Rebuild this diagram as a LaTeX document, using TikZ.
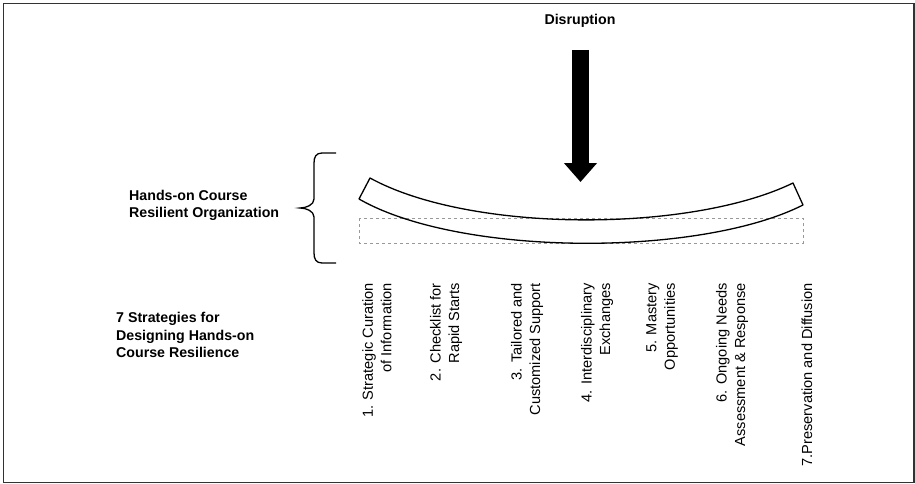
\documentclass[tikz,border=0pt]{standalone}
\usepackage{fontspec}
\setmainfont{Liberation Sans}
\usetikzlibrary{arrows.meta}

\tikzset{
  heading/.style={font=\fontsize{14.2}{17.5}\selectfont\bfseries, align=left, inner sep=0pt},
  strategy/.style={font=\fontsize{14.6}{18.5}\selectfont, rotate=90, anchor=east, align=right, inner sep=0pt},
  beam/.style={draw, line width=1.3pt, line join=round},
  rest/.style={draw=gray!80, dashed, line width=0.8pt},
  push/.style={line width=17pt, -{Triangle[width=32pt,length=19pt]}},
}

\begin{document}
\begin{tikzpicture}[x=1pt,y=-1pt]
\useasboundingbox (0,0) rectangle (915,484);
\draw[black!80, line width=1.3pt] (3.5,3.5) rectangle (914,482.5);

% labels on the left
\node[heading, anchor=center] (disruption) at (580,21) {Disruption};
\node[heading, anchor=west] (org) at (129,205.5) {Hands-on Course\\Resilient Organization};
\node[heading, anchor=west] (seven) at (116,335) {7 Strategies for\\Designing Hands-on\\Course Resilience};

% the push from above
\coordinate (dtop) at (580.5,50);
\coordinate (hit) at (580.5,182);
\draw[push] (dtop) -- (hit);

% bent beam and its resting place
\draw[rest] (359,218) rectangle (803,243);
\draw[beam] (370,178) .. controls (470,233) and (690,233) .. (793,183)
  -- (803,205) .. controls (700,257) and (460,257) .. (359,199) -- cycle;

% brace
\draw[line width=1.3pt] (336,153) -- (322,153) .. controls (316,153) and (314,157) .. (314,163)
  -- (314,199) .. controls (314,205) and (306,208) .. (300,208)
  .. controls (306,208) and (314,211) .. (314,217)
  -- (314,253) .. controls (314,259) and (316,263) .. (322,263) -- (336,263);

% the seven strategies
\node[strategy] (s1) at (377,283) {1. Strategic Curation\\of Information};
\node[strategy] (s2) at (446,283) {2. Checklist for\\Rapid Starts};
\node[strategy] (s3) at (527,283) {3. Tailored and\\Customized Support};
\node[strategy] (s4) at (597,283) {4. Interdisciplinary\\Exchanges};
\node[strategy] (s5) at (662,283) {5. Mastery\\Opportunities};
\node[strategy] (s6) at (732,283) {6. Ongoing Needs\\Assessment \& Response};
\node[strategy] (s7) at (807,283) {7.Preservation and Diffusion};
\end{tikzpicture}
\end{document}
